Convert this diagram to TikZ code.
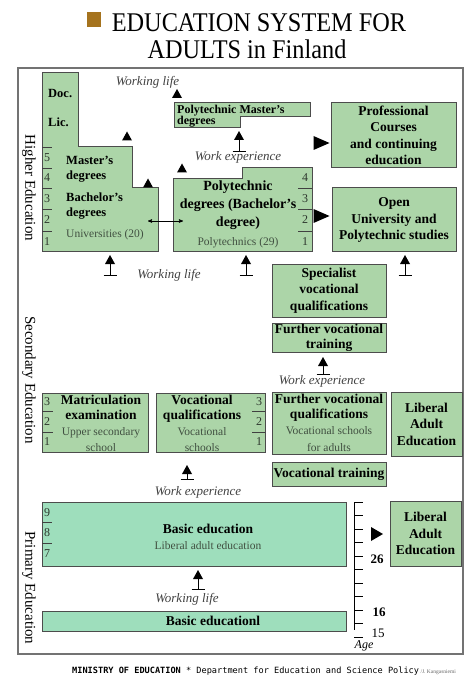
\documentclass[tikz,border=0pt]{standalone}
\usepackage{fontspec}
\setmainfont{Liberation Serif}
\newfontfamily\footfont{DejaVu Sans Mono}
\usetikzlibrary{arrows}
\definecolor{sage}{RGB}{172,213,168}
\definecolor{mint}{RGB}{158,222,188}
\definecolor{titlebrown}{RGB}{165,115,30}
\definecolor{subgray}{RGB}{65,80,65}
\definecolor{numgray}{RGB}{45,55,45}
\newcommand{\subtxt}{\mdseries\fontsize{11.5}{13.5}\selectfont\color{subgray}}

\begin{document}
\begin{tikzpicture}[x=1pt,y=-1pt,>=stealth',
    box/.style={draw=black!70,fill=sage,line width=1pt,inner sep=0pt,align=center,
      font=\bfseries\fontsize{13.5}{16.5}\selectfont},
    mintbox/.style={box,fill=mint},
    boxtext/.style={align=center,inner sep=0pt,font=\bfseries\fontsize{13.5}{16}\selectfont},
    unitext/.style={anchor=west,align=left,inner sep=0pt,font=\bfseries\fontsize{12.5}{15}\selectfont},
    num/.style={inner sep=0pt,text=numgray,font=\fontsize{12}{12}\selectfont},
    sep/.style={line width=0.8pt,draw=black!75},
    worktxt/.style={inner sep=0pt,text=black!75,font=\itshape\fontsize{13}{13}\selectfont},
    lbl/.style={rotate=-90,font=\fontsize{15}{15}\selectfont},
    pics/uptri/.style={code={\fill (-5,4.5) -- (5,4.5) -- (0,-4.5) -- cycle;}},
    pics/righttri/.style={code={\fill (-#1,-7) -- (#1,0) -- (-#1,7) -- cycle;}},
    pics/righttri/.default=8,
    pics/tarrow/.style={code={\draw[line width=0.8pt] (-6.5,0) -- (6.5,0) (0,0) -- (0,-#1);
        \fill (-5,-#1) -- (5,-#1) -- (0,-#1-9) -- cycle;}},
    pics/tarrow/.default=11]
  \useasboundingbox (0,0) rectangle (474,684);

  % title and frame
  \fill[titlebrown] (87,12) rectangle (101,27);
  \node[anchor=base,font=\fontsize{27}{27}\selectfont,xscale=0.9,transform shape] (title1) at (259,32) {EDUCATION SYSTEM FOR};
  \node[anchor=base,font=\fontsize{27}{27}\selectfont,xscale=0.9,transform shape] (title2) at (247,59) {ADULTS in Finland};
  \draw[line width=2pt,draw=black!55] (18,68) rectangle (463,654);

  \node[lbl] (higher) at (29,188) {Higher Education};
  \node[lbl] (secondary) at (29,380) {Secondary Education};
  \node[lbl] (primary) at (29,588) {Primary Education};

  % universities
  \draw[box] (42,73) -- (78,73) -- (78,147) -- (132,147) -- (132,188) -- (158,188)
    -- (158,252) -- (42,252) -- cycle;
  \foreach \y in {147,168,188,209,231} \draw[sep] (42,\y) -- (52,\y);
  \foreach \n/\y in {5/157.5,4/178,3/198.5,2/220,1/241.5} \node[num] (u\n) at (47,\y) {\n};
  \node[unitext] (doc) at (48,93) {Doc.};
  \node[unitext] (lic) at (48,122) {Lic.};
  \node[unitext] (master) at (66,169.5) {Master's\\degrees};
  \node[unitext] (bachelor) at (66,206.5) {Bachelor's\\degrees};
  \node[anchor=west,inner sep=0pt,font=\subtxt] (unis) at (66,235) {Universities (20)};

  % polytechnics
  \draw[box] (174,103) -- (310,103) -- (310,117) -- (240,117) -- (240,128) -- (174,128) -- cycle;
  \node[anchor=north west,align=left,inner sep=0pt,font=\bfseries\fontsize{12}{11}\selectfont]
    (polymaster) at (177,105) {Polytechnic Master's\\degrees};
  \draw[box] (173,179) -- (242,179) -- (242,168) -- (312,168) -- (312,252) -- (173,252) -- cycle;
  \foreach \y in {188,209,231} \draw[sep] (298,\y) -- (312,\y);
  \foreach \n/\y in {4/178,3/198.5,2/220,1/241.5} \node[num] (p\n) at (305,\y) {\n};
  \node[align=center,inner sep=0pt,font=\bfseries\fontsize{14}{18}\selectfont] (poly) at (238,205)
    {Polytechnic\\degrees (Bachelor's\\degree)};
  \node[inner sep=0pt,font=\subtxt] (polys) at (238,243) {Polytechnics (29)};
  \coordinate (unir) at (148,221);
  \coordinate (polyl) at (183,221);
  \draw[<->,line width=0.6pt] (unir) -- (polyl);

  \node[box,minimum width=125pt,minimum height=65pt] (prof) at (393.5,135.5)
    {Professional\\Courses\\and continuing\\education};
  \node[box,minimum width=124pt,minimum height=64pt] (open) at (394,220)
    {Open\\University and\\Polytechnic studies};

  % secondary
  \node[box,minimum width=114pt,minimum height=53pt] (spec) at (329,290.5)
    {Specialist\\vocational\\qualifications};
  \node[box,minimum width=114pt,minimum height=29pt] (furthtrain) at (329,337.5)
    {Further vocational\\[-1.5pt]training};
  \node[box,minimum width=114pt,minimum height=62pt] (furthqual) at (329,423)
    {Further vocational\\[-2pt]qualifications\\{\subtxt Vocational schools}\\{\subtxt for adults}};
  \node[box,minimum width=71pt,minimum height=64pt] (libsec) at (426.5,424)
    {Liberal\\Adult\\Education};
  \node[box,minimum width=114pt,minimum height=24pt] (voctrain) at (329,474) {Vocational training};

  \node[box,minimum width=106pt,minimum height=59pt] (matric) at (95,422.5) {};
  \foreach \y in {411,432} \draw[sep] (42,\y) -- (53,\y);
  \foreach \n/\y in {3/402,2/421.5,1/442} \node[num] (m\n) at (47,\y) {\n};
  \node[boxtext] (matrictxt) at (101,423)
    {Matriculation\\[-1pt]examination\\{\subtxt Upper secondary}\\{\subtxt school}};

  \node[box,minimum width=109pt,minimum height=59pt] (vocqual) at (210.5,422.5) {};
  \foreach \y in {411,432} \draw[sep] (252,\y) -- (265,\y);
  \foreach \n/\y in {3/402,2/421.5,1/442} \node[num] (v\n) at (259,\y) {\n};
  \node[boxtext] (vocqualtxt) at (202,423)
    {Vocational\\[-1pt]qualifications\\{\subtxt Vocational}\\{\subtxt schools}};

  % primary
  \node[mintbox,minimum width=304pt,minimum height=64pt] (basic) at (194,534) {};
  \foreach \y in {522,543} \draw[sep] (42,\y) -- (52,\y);
  \foreach \n/\y in {9/513,8/533,7/554} \node[num] (b\n) at (47,\y) {\n};
  \node[boxtext] (basictxt) at (208,537) {Basic education\\{\subtxt Liberal adult education}};
  \node[mintbox,minimum width=304pt,minimum height=20pt] (basicl) at (194,621) {};
  \node[boxtext] (basicltxt) at (213,620.5) {Basic educationl};
  \node[box,minimum width=71pt,minimum height=65pt] (libpri) at (425.5,533.5)
    {Liberal\\Adult\\Education};

  % age scale
  \draw[line width=1pt] (354,502) -- (354,630);
  \foreach \k in {0,...,10} \draw[line width=0.8pt] (354,{502+13.5*\k}) -- (363,{502+13.5*\k});
  \node[inner sep=0pt,font=\bfseries\fontsize{13}{13}\selectfont] (a26) at (377,559) {26};
  \node[inner sep=0pt,font=\bfseries\fontsize{13}{13}\selectfont] (a16) at (379,612) {16};
  \node[inner sep=0pt,font=\fontsize{13}{13}\selectfont] (a15) at (378,633) {15};
  \node[inner sep=0pt,font=\itshape\fontsize{12}{12}\selectfont] (age) at (364,646) {Age};

  % markers
  \pic at (177,93.5) {uptri};
  \pic at (127,136) {uptri};
  \pic at (148,183) {uptri};
  \pic at (182,168) {uptri};
  \pic at (239,151) {tarrow};
  \pic at (110,275) {tarrow};
  \pic at (246,275) {tarrow};
  \pic at (405,275) {tarrow};
  \pic at (323,374) {tarrow=8};
  \pic at (187,479) {tarrow=5};
  \pic at (198,589) {tarrow=10};
  \pic at (321.5,143) {righttri};
  \pic at (321.5,216) {righttri};
  \pic at (377,534) {righttri=6};

  \node[worktxt] (wl1) at (147.5,82) {Working life};
  \node[worktxt] (we1) at (238,157) {Work experience};
  \node[worktxt] (wl2) at (169,275) {Working life};
  \node[worktxt] (we2) at (322,381) {Work experience};
  \node[worktxt] (we3) at (198,492) {Work experience};
  \node[worktxt] (wl3) at (187,599) {Working life};

  \node[anchor=base west,inner sep=0pt,font=\footfont\fontsize{8.6}{9}\selectfont] (ministry) at (72,673)
    {\textbf{MINISTRY OF EDUCATION} * Department for Education and Science Policy};
  \node[anchor=base west,inner sep=1pt,text=black!60,font=\fontsize{5.5}{6}\selectfont] (author)
    at (ministry.base east) {/J. Kangasniemi};
\end{tikzpicture}
\end{document}
